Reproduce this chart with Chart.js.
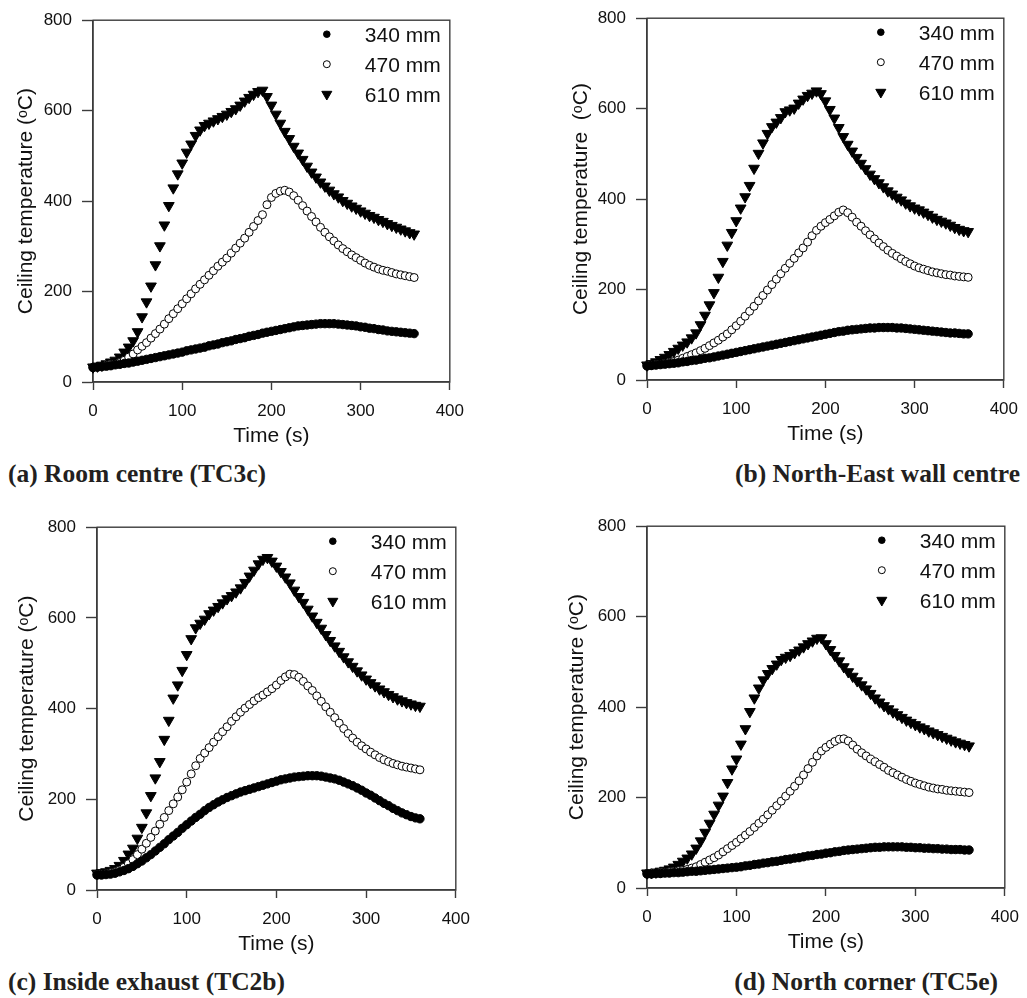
<!DOCTYPE html>
<html>
<head>
<meta charset="utf-8">
<script src="https://cdn.jsdelivr.net/npm/chart.js"></script>
<style>
html,body{margin:0;padding:0;background:#fff;}
body{width:1027px;height:998px;overflow:hidden;position:relative;}
canvas{position:absolute;}
.cap{position:absolute;font-weight:bold;font-size:25.5px;font-family:"Liberation Serif","DejaVu Serif",serif;color:#231f20;white-space:nowrap;line-height:25.5px;}
</style>
</head>
<body>
<canvas id="ca"></canvas>
<canvas id="cb"></canvas>
<canvas id="cc"></canvas>
<canvas id="cd"></canvas>
<div class="cap" style="left:8px;top:461px;">(a) Room centre (TC3c)</div>
<div class="cap" style="right:7px;top:461px;">(b) North-East wall centre</div>
<div class="cap" style="left:8px;top:969px;">(c) Inside exhaust (TC2b)</div>
<div class="cap" style="right:29px;top:969px;">(d) North corner (TC5e)</div>
<script>
// ---- data ----
const time = [0,5,10,15,20,25,30,35,40,45,
  50,55,60,65,70,75,80,85,90,95,
  100,105,110,115,120,125,130,135,140,145,
  150,155,160,165,170,175,180,185,190,195,
  200,205,210,215,220,225,230,235,240,245,
  250,255,260,265,270,275,280,285,290,295,
  300,305,310,315,320,325,330,335,340,345,
  350,355,360];
const seriesLabels = ['340 mm','470 mm','610 mm'];
const xTickValues = [0,100,200,300,400];
const yTickValues = [0,200,400,600,800];

// (a) Room centre (TC3c)
const a340 = [32,33,34,35,36,38,39,41,42,44,
  46,48,50,52,54,56,58,60,62,64,
  66,69,71,73,75,77,80,82,84,87,
  89,91,94,96,98,101,103,105,108,110,
  112,114,116,118,120,122,124,125,126,127,
  128,129,129,129,129,128,127,126,125,124,
  122,121,119,118,116,115,113,112,111,110,
  109,108,107];
const a470 = [32,33,35,37,39,40,43,48,55,62,
  71,79,87,97,107,117,128,140,151,162,
  173,184,195,206,216,226,236,246,256,265,
  274,285,296,307,318,331,344,357,370,392,
  408,417,422,424,420,412,402,390,378,366,
  354,342,331,321,312,303,295,288,281,275,
  269,263,258,254,250,247,245,242,239,237,
  235,233,231];
const a610 = [33,35,37,40,44,48,55,66,77,91,
  111,144,177,212,259,301,347,390,429,460,
  484,508,526,545,557,567,572,577,582,587,
  592,598,604,612,621,629,636,642,645,631,
  612,592,572,554,538,521,506,492,477,464,
  453,442,433,424,416,409,401,395,389,384,
  378,373,368,364,359,355,350,346,342,338,
  334,330,327];

// (b) North-East wall centre
const b340 = [31,32,33,34,35,36,37,38,40,41,
  43,44,46,48,49,51,53,55,57,59,
  61,63,65,67,69,71,73,75,77,79,
  81,83,85,87,89,91,93,95,97,99,
  101,103,105,107,108,110,111,112,113,114,
  115,115,116,116,116,116,115,115,114,113,
  112,111,110,109,108,107,106,105,104,104,
  103,102,102];
const b470 = [32,33,34,35,37,39,41,44,48,52,
  56,60,65,70,76,82,88,95,102,111,
  120,130,141,152,163,175,187,199,211,223,
  235,247,258,269,281,292,305,319,331,340,
  348,355,363,371,376,370,360,349,340,330,
  321,312,303,295,287,280,274,268,262,257,
  252,248,245,242,239,237,235,233,232,230,
  229,228,227];
const b610 = [33,36,40,45,50,56,63,70,77,84,
  93,104,122,143,166,193,227,262,298,326,
  352,380,405,430,468,501,524,545,560,570,
  580,593,597,601,612,621,629,634,639,633,
  617,598,579,558,538,521,506,492,479,467,
  455,445,436,427,418,411,404,398,391,385,
  380,376,371,366,360,355,351,347,342,337,
  333,330,328];

// (c) Inside exhaust (TC2b)
const c340 = [33,33,34,35,37,40,43,47,52,58,
  64,71,78,86,94,102,111,119,127,136,
  144,152,160,167,175,182,188,194,199,204,
  208,212,216,219,222,225,228,231,234,237,
  240,243,245,247,249,250,251,252,252,252,
  251,249,247,245,242,238,234,230,225,220,
  214,209,203,197,191,186,180,175,170,166,
  162,159,157];
const c470 = [35,35,36,38,40,44,50,58,67,78,
  90,103,116,130,145,160,175,190,205,221,
  238,256,274,290,302,314,326,338,349,360,
  372,382,392,401,409,417,424,430,437,444,
  452,462,470,476,475,469,460,450,440,428,
  416,404,392,380,368,356,345,335,326,318,
  311,304,298,292,287,283,279,276,273,271,
  269,267,265];
const c610 = [37,38,40,43,47,54,65,79,92,114,
  138,170,208,247,283,332,374,423,452,484,
  519,554,578,588,597,609,617,625,633,642,
  649,657,666,678,692,705,719,729,733,725,
  714,702,690,677,661,647,634,619,604,590,
  577,563,550,538,526,514,503,493,483,474,
  465,457,450,443,437,431,426,421,417,413,
  410,407,405];

// (d) North corner (TC5e)
const d340 = [31,31,32,32,33,33,34,34,35,36,
  37,37,38,39,40,41,42,43,44,45,
  46,47,49,50,52,53,55,56,58,59,
  61,63,64,66,67,69,71,72,74,75,
  77,78,80,81,83,84,85,86,87,88,
  89,90,90,91,91,91,91,91,90,90,
  89,89,88,88,87,87,86,86,85,85,
  85,84,84];
const d470 = [32,33,33,34,35,36,37,38,39,41,
  44,47,52,57,62,67,73,80,87,94,
  101,109,117,125,134,143,152,162,172,182,
  192,203,214,225,237,250,264,278,292,303,
  311,318,324,329,330,325,316,307,299,292,
  285,279,273,267,260,255,250,245,240,236,
  232,229,226,223,221,219,218,216,215,214,
  213,212,211];
const d610 = [33,34,35,37,39,42,46,52,59,66,
  75,88,104,123,143,163,183,203,233,263,
  285,318,352,390,420,442,460,474,485,495,
  505,510,514,520,526,533,540,546,552,553,
  540,527,514,502,489,478,468,458,449,440,
  430,420,411,403,396,389,383,377,371,366,
  361,356,352,347,343,339,335,331,327,323,
  320,317,314];

// ---- style / layout ----
const FONT = '"Liberation Sans", Arial, Helvetica, sans-serif';
const AXIS = '#3c3c3c';
const TEXT = '#111111';
const Y_W = 93, X_H = 75, PAD_T = 18, PAD_R = 18;

const panels = [
  {id:'ca', yTitle:'Ceiling temperature (\u1D52C)', yTitlePad:14, series:[a340,a470,a610],
   area:{left:93, top:18, right:457, bottom:382}},
  {id:'cb', yTitle:'Ceiling temperature  (\u1D52C)', yTitlePad:15, series:[b340,b470,b610],
   area:{left:647, top:16, right:1011, bottom:380}},
  {id:'cc', yTitle:'Ceiling temperature (\u1D52C)', yTitlePad:11, series:[c340,c470,c610],
   area:{left:97, top:525, right:463, bottom:890}},
  {id:'cd', yTitle:'Ceiling temperature (\u1D52C)', yTitlePad:11, series:[d340,d470,d610],
   area:{left:647, top:524, right:1012, bottom:888}}
];

const styles = [
  {pointStyle:'circle', rotation:0, radius:4.2, bg:'#000', legendR:3.3},
  {pointStyle:'circle', rotation:0, radius:4.0, bg:'#fff', legendR:3.5},
  {pointStyle:'triangle', rotation:180, radius:6.2, bg:'#000', legendR:5.8}
];

function drawMarker(ctx, st, x, y, r) {
  ctx.beginPath();
  if (st.pointStyle === 'circle') {
    ctx.arc(x, y, r, 0, Math.PI * 2);
  } else {
    const h = r * Math.sqrt(3);
    ctx.moveTo(x - h / 2, y - r / 2);
    ctx.lineTo(x + h / 2, y - r / 2);
    ctx.lineTo(x, y + r);
    ctx.closePath();
  }
  ctx.fillStyle = st.bg;
  ctx.fill();
  ctx.lineWidth = 1;
  ctx.strokeStyle = '#000';
  ctx.stroke();
}

const framePlugin = {
  id: 'frame',
  beforeDatasetsDraw(chart) {
    const {ctx, chartArea: a} = chart;
    ctx.save();
    ctx.strokeStyle = AXIS;
    ctx.lineWidth = 1.4;
    ctx.strokeRect(a.left, a.top, a.right - a.left, a.bottom - a.top);
    ctx.restore();
  }
};

const legendPlugin = {
  id: 'insideLegend',
  afterDraw(chart) {
    const {ctx, chartArea: a} = chart;
    const rows = [15, 45, 75];
    ctx.save();
    ctx.font = '21px ' + FONT;
    ctx.textAlign = 'left';
    ctx.textBaseline = 'middle';
    chart.data.datasets.forEach((ds, i) => {
      const y = a.top + rows[i];
      drawMarker(ctx, styles[i], a.right - 123, y - 1, styles[i].legendR);
      ctx.fillStyle = TEXT;
      ctx.fillText(ds.label, a.right - 85, y + 1);
    });
    ctx.restore();
  }
};

function makeChart(p) {
  const cv = document.getElementById(p.id);
  const plotW = p.area.right - p.area.left;
  const plotH = p.area.bottom - p.area.top;
  const W = Y_W + plotW + PAD_R;
  const H = PAD_T + plotH + X_H;
  cv.width = W; cv.height = H;
  cv.style.width = W + 'px'; cv.style.height = H + 'px';
  cv.style.left = (p.area.left - Y_W) + 'px';
  cv.style.top = (p.area.top - PAD_T) + 'px';

  const datasets = p.series.map((arr, i) => ({
    label: seriesLabels[i],
    data: time.map((t, k) => ({x: t, y: arr[k]})),
    showLine: false,
    pointStyle: styles[i].pointStyle,
    rotation: styles[i].rotation,
    pointRadius: styles[i].radius,
    pointHoverRadius: styles[i].radius,
    pointBackgroundColor: styles[i].bg,
    pointBorderColor: '#000',
    pointBorderWidth: 1,
    clip: false
  }));

  new Chart(cv, {
    type: 'scatter',
    data: {datasets},
    plugins: [framePlugin, legendPlugin],
    options: {
      responsive: false,
      animation: false,
      devicePixelRatio: 1,
      events: [],
      layout: {padding: {left: 0, top: PAD_T, right: PAD_R, bottom: 0}},
      plugins: {legend: {display: false}, tooltip: {enabled: false}},
      scales: {
        x: {
          type: 'linear', position: 'bottom', min: 0, max: 400,
          afterBuildTicks: s => { s.ticks = xTickValues.map(v => ({value: v})); },
          afterFit: s => { s.height = X_H; },
          grid: {display: true, drawOnChartArea: false, drawTicks: true, tickLength: 8, tickColor: AXIS, tickWidth: 1.4},
          border: {display: true, color: AXIS, width: 1.4},
          ticks: {font: {family: FONT, size: 17}, color: TEXT, padding: 11, maxRotation: 0, autoSkip: false},
          title: {display: true, text: 'Time (s)', font: {family: FONT, size: 21}, color: TEXT, padding: {top: 0, bottom: 8}}
        },
        y: {
          type: 'linear', position: 'left', min: 0, max: 800,
          afterBuildTicks: s => { s.ticks = yTickValues.map(v => ({value: v})); },
          afterFit: s => { s.width = Y_W; },
          grid: {display: true, drawOnChartArea: false, drawTicks: true, tickLength: 11, tickColor: AXIS, tickWidth: 1.4},
          border: {display: true, color: AXIS, width: 1.4},
          ticks: {font: {family: FONT, size: 17}, color: TEXT, padding: 10, autoSkip: false},
          title: {display: true, text: p.yTitle, font: {family: FONT, size: 21}, color: TEXT, padding: {top: p.yTitlePad, bottom: 0}}
        }
      }
    }
  });
}

panels.forEach(makeChart);
</script>
</body>
</html>
